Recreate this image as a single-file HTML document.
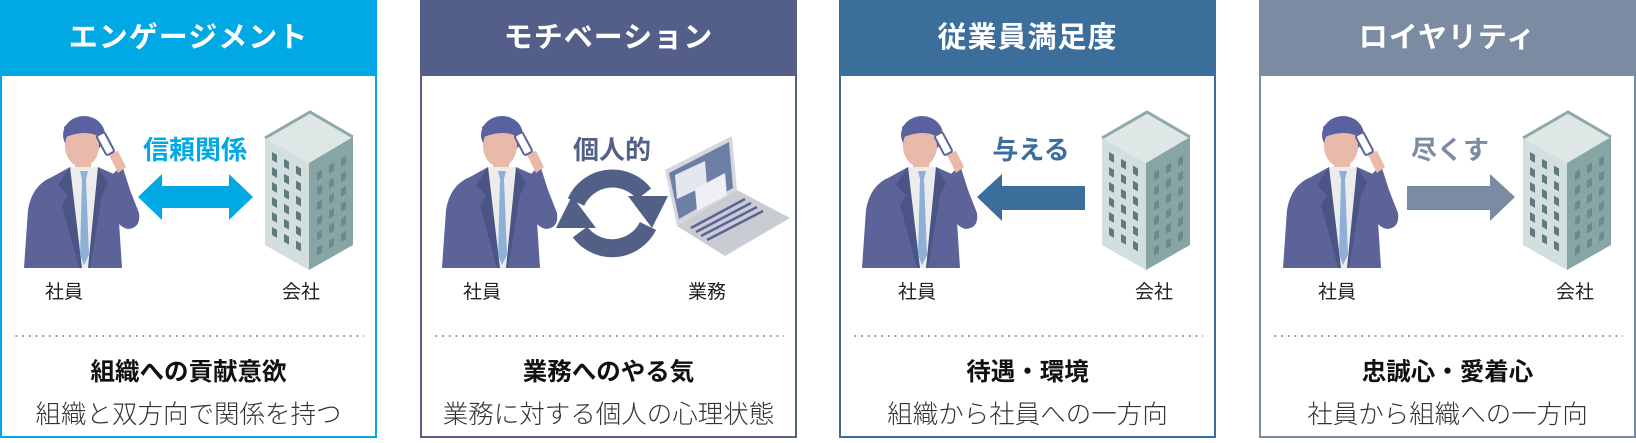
<!DOCTYPE html>
<html><head><meta charset="utf-8"><style>
body{margin:0;width:1636px;height:443px;background:#fff;position:relative;overflow:hidden;font-family:"Liberation Sans","Noto Sans CJK JP",sans-serif;}
.p{position:absolute;top:0;width:377px;height:438px;box-sizing:border-box;border:2px solid;border-top:none;}
.h{position:absolute;left:-2px;right:-2px;top:0;height:76px;color:#fff;font-weight:bold;font-size:29px;text-align:center;line-height:76px;letter-spacing:1px;}
.dot{position:absolute;left:11px;right:11px;top:335px;height:2px;background:radial-gradient(circle,#8a94a8 0.9px,transparent 1.2px) 0 0/6.7px 2px repeat-x;}
.b{position:absolute;left:0;right:0;top:353px;text-align:center;font-weight:bold;font-size:24.5px;color:#111;}
.s{position:absolute;left:0;right:0;top:394px;text-align:center;font-size:25.5px;color:#333;font-weight:300;}
.l{position:absolute;top:277px;font-size:19px;color:#222;width:60px;text-align:center;margin-left:-30px;}
.k{position:absolute;top:130px;font-size:26px;font-weight:bold;width:140px;text-align:center;margin-left:-70px;}
svg{position:absolute;left:0;top:0;}
</style></head><body>
<svg width="1636" height="443" viewBox="0 0 1636 443">
<defs>
<g id="person">
<ellipse cx="62" cy="20" rx="21" ry="19" fill="#59629e"/>
<rect x="53" y="40" width="16" height="16" fill="#e9b9aa"/>
<ellipse cx="60" cy="31" rx="17" ry="21" fill="#e9b9aa"/>
<path d="M42,12 Q55,0 78,10 L78,22 Q64,14 44,22 Z" fill="#59629e"/>
<path d="M2,153 L6,95 Q10,70 30,62 L48,52 L76,52 L94,60 L100,153 Z" fill="#5b6399"/>
<path d="M48,52 L76,52 L68,153 L57,153 Z" fill="#ececec"/>
<path d="M48,52 L36,70 L46,80 L40,90 L57,153 L60,153 Z" fill="#4b5585"/>
<path d="M76,52 L86,68 L80,80 L68,153 L66,153 Z" fill="#4b5585"/>
<path d="M58,56 L66,56 L64,64 L67,140 L62,150 L58,140 L60,64 Z" fill="#8eb0d6"/>
<path d="M90,60 L100,50 L108,75 L117,98 Q119,113 106,114 Q96,112 92,100 Z" fill="#5b6399"/>
<path d="M86,38 L96,36 L104,52 L96,58 Z" fill="#e9b9aa"/>
<rect x="79" y="18" width="9" height="22" rx="2" fill="#fff" stroke="#5b6399" stroke-width="2" transform="rotate(-28 83 29)"/>
</g>
<g id="bld">
<polygon points="0,26 45,0 88,25 44,51" fill="#dfe7e6"/>
<polyline points="0,26 45,0 88,25" fill="none" stroke="#8fa9a9" stroke-width="3"/>
<polygon points="0,26 44,51 44,158 0,133" fill="#d2dfde"/>
<polygon points="44,51 88,25 88,133 44,158" fill="#87a5a5"/>
<g transform="matrix(1,0.57,0,1,0,26)" fill="#5f7b80">
<rect x="7" y="10" width="5" height="8"/><rect x="19" y="10" width="5" height="8"/><rect x="31" y="10" width="5" height="8"/>
<rect x="7" y="25" width="5" height="8"/><rect x="19" y="25" width="5" height="8"/><rect x="31" y="25" width="5" height="8"/>
<rect x="7" y="40" width="5" height="8"/><rect x="19" y="40" width="5" height="8"/><rect x="31" y="40" width="5" height="8"/>
<rect x="7" y="55" width="5" height="8"/><rect x="19" y="55" width="5" height="8"/><rect x="31" y="55" width="5" height="8"/>
<rect x="7" y="70" width="5" height="8"/><rect x="19" y="70" width="5" height="8"/><rect x="31" y="70" width="5" height="8"/>
<rect x="7" y="85" width="5" height="8"/><rect x="19" y="85" width="5" height="8"/><rect x="31" y="85" width="5" height="8"/>
</g>
<g transform="matrix(1,-0.57,0,1,44,51)" fill="#6a8a8c">
<rect x="8" y="14" width="5" height="8"/><rect x="20" y="14" width="5" height="8"/><rect x="32" y="14" width="5" height="8"/>
<rect x="8" y="29" width="5" height="8"/><rect x="20" y="29" width="5" height="8"/><rect x="32" y="29" width="5" height="8"/>
<rect x="8" y="44" width="5" height="8"/><rect x="20" y="44" width="5" height="8"/><rect x="32" y="44" width="5" height="8"/>
<rect x="8" y="59" width="5" height="8"/><rect x="20" y="59" width="5" height="8"/><rect x="32" y="59" width="5" height="8"/>
<rect x="8" y="74" width="5" height="8"/><rect x="20" y="74" width="5" height="8"/><rect x="32" y="74" width="5" height="8"/>
<rect x="8" y="89" width="5" height="8"/><rect x="20" y="89" width="5" height="8"/><rect x="32" y="89" width="5" height="8"/>
</g>
</g>
</defs>
<use href="#person" x="22" y="115"/>
<use href="#bld" x="265" y="112"/>
<polygon points="138,197 162,174 162,186 229,186 229,174 253,197 229,220 229,208 162,208 162,220" fill="#00a8e4"/>
<use href="#person" x="440" y="115"/>
<g fill="none" stroke="#525f87" stroke-width="18">
<path d="M576,202 A40,40 0 0 1 644,194"/>
<path d="M648,226 A40,40 0 0 1 580,232"/>
</g>
<polygon points="628,196 668,196 652,228" fill="#525f87"/>
<polygon points="556,228 596,228 572,196" fill="#525f87"/>
<g transform="translate(665,133)">
<polygon points="0,37 67,3 72,57 12,93" fill="#d5d7dc"/>
<polygon points="4,40 64,9 68,55 14,86" fill="#6e7fa6"/>
<polygon points="10,42 40,28 42,52 12,66" fill="#e4e7ee"/>
<polygon points="30,56 60,40 62,62 32,78" fill="#eef0f5"/>
<polygon points="12,93 72,57 125,85 60,123" fill="#c9ccd3"/>
<g stroke="#5b6399" stroke-width="2.5">
<line x1="26" y1="95" x2="80" y2="66"/><line x1="31" y1="99" x2="86" y2="70"/><line x1="36" y1="103" x2="92" y2="74"/><line x1="42" y1="107" x2="98" y2="78"/>
</g>
</g>
<use href="#person" x="860" y="115"/>
<use href="#bld" x="1102" y="112"/>
<polygon points="977,197 1002,174 1002,186 1085,186 1085,210 1002,210 1002,221" fill="#3b6e9b"/>
<use href="#person" x="1281" y="115"/>
<use href="#bld" x="1523" y="112"/>
<polygon points="1515,197 1490,174 1490,186 1407,186 1407,210 1490,210 1490,221" fill="#7b8ba1"/>
</svg>

<div class="p" style="left:0;border-color:#00a8e4"><div class="h" style="background:#00a8e4">エンゲージメント</div><div class="dot"></div><div class="b">組織への貢献意欲</div><div class="s">組織と双方向で関係を持つ</div></div>
<div class="p" style="left:420px;border-color:#535f88"><div class="h" style="background:#535f88">モチベーション</div><div class="dot"></div><div class="b">業務へのやる気</div><div class="s">業務に対する個人の心理状態</div></div>
<div class="p" style="left:839px;border-color:#3b6e9b"><div class="h" style="background:#3b6e9b">従業員満足度</div><div class="dot"></div><div class="b">待遇・環境</div><div class="s">組織から社員への一方向</div></div>
<div class="p" style="left:1259px;border-color:#7b8ba1"><div class="h" style="background:#7b8ba1">ロイヤリティ</div><div class="dot"></div><div class="b">忠誠心・愛着心</div><div class="s">社員から組織への一方向</div></div>

<div class="k" style="left:195px;color:#00a8e4">信頼関係</div>
<div class="k" style="left:612px;color:#525f87">個人的</div>
<div class="k" style="left:1031px;color:#3b6e9b">与える</div>
<div class="k" style="left:1450px;color:#7b8ba1">尽くす</div>

<div class="l" style="left:64px">社員</div>
<div class="l" style="left:301px">会社</div>
<div class="l" style="left:482px">社員</div>
<div class="l" style="left:707px">業務</div>
<div class="l" style="left:917px">社員</div>
<div class="l" style="left:1154px">会社</div>
<div class="l" style="left:1337px">社員</div>
<div class="l" style="left:1575px">会社</div>
</body></html>
